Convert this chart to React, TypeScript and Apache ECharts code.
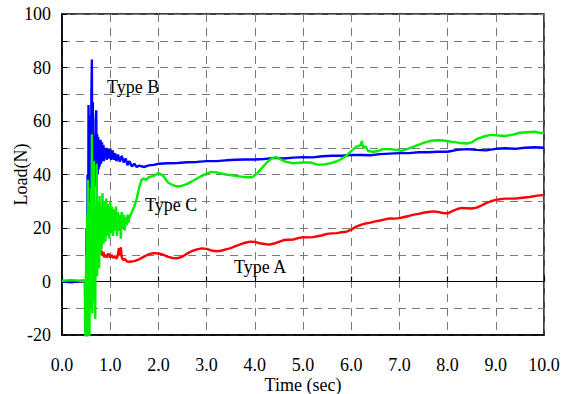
import React, { useEffect, useRef } from "react";
import * as echarts from "echarts";

const xTicks = [0, 1, 2, 3, 4, 5, 6, 7, 8, 9, 10];
const yLabelValues = [-20, 0, 20, 40, 60, 80, 100];

const typeA: [number, number][] = [
  [0, 0], [0.4, 0], [0.5, 0], [0.58, 14], [0.62, 6], [0.66, 13], [0.7, 9], [0.75, 12],
  [0.77, 11], [0.79, 12.5], [0.8, 10], [0.82, 11.5], [0.84, 9.5], [0.86, 11], [0.88, 9], [0.9, 10],
  [0.93, 9], [0.96, 10.5], [1.0, 9], [1.03, 10], [1.06, 8.8], [1.1, 9.5], [1.13, 8.5], [1.16, 10],
  [1.18, 12.5], [1.2, 10], [1.22, 12.8], [1.24, 9], [1.27, 8], [1.3, 8.5], [1.35, 7.5], [1.4, 7.4],
  [1.5, 7.6], [1.6, 8.3], [1.7, 9.3], [1.8, 10.2], [1.9, 10.6], [2.0, 10.5], [2.1, 10], [2.2, 9.2],
  [2.3, 8.8], [2.4, 8.7], [2.5, 9.3], [2.6, 10.5], [2.7, 11.4], [2.8, 12], [2.9, 12.4], [3.0, 12.2],
  [3.1, 11.6], [3.2, 11.3], [3.3, 11.5], [3.4, 12], [3.5, 12.5], [3.6, 13.2], [3.7, 13.9], [3.8, 14.5],
  [3.9, 14.9], [4.0, 14.8], [4.1, 14.3], [4.2, 14], [4.3, 13.8], [4.4, 14.2], [4.5, 14.8], [4.6, 15.5],
  [4.7, 15.6], [4.8, 15.7], [4.9, 16.2], [5.0, 16.6], [5.1, 16.5], [5.2, 16.6], [5.3, 16.9], [5.4, 17.3],
  [5.5, 17.8], [5.6, 18], [5.7, 18.1], [5.8, 18.4], [5.9, 18.6], [6.0, 19.4], [6.1, 20.5], [6.2, 21.2],
  [6.3, 21.7], [6.4, 22], [6.5, 22.5], [6.6, 22.8], [6.7, 23.2], [6.8, 23.6], [6.9, 23.5], [7.0, 23.7],
  [7.1, 24.1], [7.2, 24.5], [7.3, 25], [7.4, 25.3], [7.5, 25.7], [7.6, 26], [7.7, 26.2], [7.8, 26],
  [7.9, 25.6], [8.0, 25.5], [8.1, 26.3], [8.2, 27.1], [8.3, 27.5], [8.4, 27.4], [8.5, 27.3], [8.6, 27.6],
  [8.7, 28.4], [8.8, 29.3], [8.9, 30], [9.0, 30.5], [9.1, 30.8], [9.2, 31], [9.3, 31], [9.4, 31],
  [9.5, 31.2], [9.6, 31.4], [9.7, 31.6], [9.8, 31.9], [9.9, 32.2], [10, 32.3],
];

const typeB: [number, number][] = [
  [0, 0], [0.2, -0.3], [0.4, 0.2], [0.48, 0], [0.5, -25], [0.51, 20], [0.52, -25], [0.53, 40],
  [0.54, -20], [0.55, 66], [0.56, -5], [0.57, 58], [0.58, 5], [0.59, 62], [0.6, 15], [0.61, 70],
  [0.62, 83], [0.63, 25], [0.64, 67], [0.65, 30], [0.66, 55], [0.67, 35], [0.68, 52], [0.69, 38],
  [0.7, 60], [0.71, 64], [0.72, 36], [0.73, 55], [0.74, 40], [0.75, 54], [0.76, 42], [0.77, 53],
  [0.78, 43], [0.8, 53], [0.81, 44], [0.83, 52], [0.84, 45], [0.86, 51], [0.87, 45], [0.89, 50],
  [0.9, 46], [0.92, 50], [0.93, 45.5], [0.95, 49.5], [0.97, 46], [1.0, 49.5], [1.02, 45.5], [1.05, 49],
  [1.08, 45.5], [1.1, 48], [1.13, 45], [1.16, 47.5], [1.2, 44.8], [1.24, 47], [1.28, 44.5], [1.32, 46],
  [1.36, 43.5], [1.4, 45], [1.45, 43], [1.5, 44], [1.55, 42.8], [1.6, 43.3], [1.7, 42.8], [1.8, 43.4],
  [1.9, 43.6], [2.0, 44], [2.2, 44.2], [2.4, 44.3], [2.6, 44.6], [2.8, 44.7], [3.0, 45], [3.2, 45],
  [3.4, 45.3], [3.6, 45.5], [3.8, 45.6], [4.0, 45.6], [4.2, 45.8], [4.4, 46.2], [4.6, 46], [4.8, 46.3],
  [5.0, 46.5], [5.2, 46.4], [5.4, 46.8], [5.6, 47], [5.8, 47], [6.0, 47.3], [6.2, 47.3], [6.4, 47.2],
  [6.6, 47.6], [6.8, 47.8], [7.0, 48], [7.2, 48], [7.4, 48.3], [7.6, 48.3], [7.8, 48.5], [8.0, 48.5],
  [8.2, 49.2], [8.4, 49.5], [8.6, 49.2], [8.8, 49], [9.0, 49.6], [9.2, 49.8], [9.4, 49.6], [9.6, 50],
  [9.8, 50.2], [10, 50],
];

const typeC: [number, number][] = [
  [0, 0.3], [0.2, 0.5], [0.4, 0.3], [0.47, 0.5], [0.49, -25], [0.5, 10], [0.51, -25], [0.52, 25],
  [0.53, -20], [0.54, 38], [0.55, -15], [0.56, 30], [0.57, -22], [0.58, 20], [0.59, -10], [0.6, 35],
  [0.61, -5], [0.62, 55], [0.63, -12], [0.64, 30], [0.65, -8], [0.66, 45], [0.67, 0], [0.68, 28],
  [0.69, -14], [0.7, 25], [0.71, 5], [0.72, 44], [0.73, 2], [0.74, 30], [0.75, 8], [0.76, 28],
  [0.77, 5], [0.78, 32], [0.79, 10], [0.8, 28], [0.82, 12], [0.84, 33], [0.86, 14], [0.88, 30],
  [0.9, 15], [0.92, 31], [0.94, 17], [0.96, 29], [0.98, 16], [1.0, 30], [1.02, 18], [1.04, 28],
  [1.06, 17], [1.08, 27], [1.1, 19], [1.12, 28], [1.14, 17], [1.16, 26], [1.18, 19], [1.2, 25],
  [1.22, 16], [1.24, 26], [1.26, 20], [1.28, 25], [1.3, 19], [1.32, 24], [1.34, 21], [1.36, 25],
  [1.38, 22], [1.4, 24], [1.45, 26], [1.5, 28], [1.55, 31], [1.6, 35], [1.65, 38], [1.7, 38.5],
  [1.75, 38], [1.8, 39], [1.9, 39.5], [2.0, 40.5], [2.1, 39.5], [2.2, 37], [2.3, 36], [2.4, 35.5],
  [2.5, 35.8], [2.6, 36.5], [2.7, 37.5], [2.8, 38.5], [2.9, 39.5], [3.0, 40.3], [3.1, 41], [3.2, 40.8],
  [3.4, 40], [3.6, 39.5], [3.8, 39], [3.95, 39], [4.05, 40.5], [4.15, 42.5], [4.25, 44.5], [4.35, 46],
  [4.45, 46.5], [4.55, 45.5], [4.65, 44.7], [4.8, 44.2], [5.0, 44.5], [5.15, 44.5], [5.3, 43.7],
  [5.45, 43.8], [5.6, 44.3], [5.75, 45.3], [5.9, 47], [6.0, 48.7], [6.1, 50.3], [6.2, 51], [6.22, 52.5],
  [6.25, 50], [6.3, 50.5], [6.35, 48.8], [6.45, 48.5], [6.55, 48.7], [6.65, 49.5], [6.8, 49.5],
  [6.95, 49.2], [7.05, 48.8], [7.2, 49.8], [7.35, 50.8], [7.5, 51.8], [7.65, 52.6], [7.8, 52.8],
  [7.95, 52.6], [8.1, 52.2], [8.25, 51.8], [8.4, 51.6], [8.5, 52], [8.6, 53.2], [8.75, 54.2],
  [8.9, 54.8], [9.05, 54.6], [9.2, 54.4], [9.35, 54.9], [9.5, 55.6], [9.65, 55.8], [9.8, 56],
  [9.9, 55.6], [10, 55.5],
];

const seriesNames = ["Type A", "Type B", "Type C"];
const seriesColors = ["#ff0000", "#0000ff", "#00ee00"];

const FONT = "Liberation Serif";

export default function App() {
  const ref = useRef<HTMLDivElement>(null);
  useEffect(() => {
    document.body.style.margin = "0";
    const chart = echarts.init(ref.current!, null, { renderer: "svg" });
    const dashed = { show: true, lineStyle: { color: "#7a7a7a", type: [8, 6] as any, width: 1 } };
    const txt = (text: string, left: number, top: number) => ({
      type: "text", left, top, z: 100,
      style: { text, fontFamily: FONT, fontSize: 18, fill: "#000" },
    });
    chart.setOption({
      animation: false,
      backgroundColor: "#fff",
      textStyle: { fontFamily: FONT },
      grid: {
        left: 62, top: 14, width: 482, height: 321,
        outerBoundsMode: "none", containLabel: false,
        show: true, borderColor: "#000", borderWidth: 1.5, backgroundColor: "transparent",
      },
      xAxis: [
        {
          type: "value", min: xTicks[0], max: xTicks[xTicks.length - 1], interval: 1,
          position: "bottom",
          axisLine: { onZero: false, show: true, lineStyle: { color: "#000", width: 1.5 } },
          axisTick: { show: false },
          axisLabel: {
            margin: 21, color: "#000", fontSize: 18, fontFamily: FONT,
            formatter: (v: number) => v.toFixed(1),
          },
          splitLine: dashed,
          name: "Time (sec)", nameLocation: "middle", nameGap: 41, nameMoveOverlap: false,
          nameTextStyle: { color: "#000", fontSize: 18, fontFamily: FONT, lineHeight: 18 },
        },
        {
          type: "value", min: xTicks[0], max: xTicks[xTicks.length - 1], interval: 1,
          position: "bottom",
          axisLine: { onZero: true, show: true, lineStyle: { color: "#000", width: 1.2 } },
          axisTick: { show: true, inside: true, length: 5, lineStyle: { color: "#000", width: 1.2 } },
          axisLabel: { show: false },
          splitLine: { show: false },
        },
      ],
      yAxis: {
        type: "value", min: -20, max: 100, interval: 10,
        axisLine: { show: true, lineStyle: { color: "#000", width: 1.5 } },
        axisTick: { show: true, inside: true, length: 5, lineStyle: { color: "#000" } },
        axisLabel: {
          margin: 11, color: "#000", fontSize: 18, fontFamily: FONT,
          formatter: (v: number) => (yLabelValues.includes(v) ? String(v) : ""),
        },
        splitLine: dashed,
        name: "Load(N)", nameLocation: "middle", nameGap: 32, nameRotate: 90, nameMoveOverlap: false,
        nameTextStyle: { color: "#000", fontSize: 18, fontFamily: FONT },
      },
      series: [typeA, typeB, typeC].map((d, i) => ({
        type: "line", name: seriesNames[i], data: d, xAxisIndex: 0,
        showSymbol: false, symbol: "none", clip: true,
        lineStyle: { color: seriesColors[i], width: 2.4 },
        z: 3 + i,
      })),
      graphic: [
        txt("Type B", 107, 78),
        txt("Type C", 145, 196),
        txt("Type A", 234, 258),
      ],
    });
    return () => chart.dispose();
  }, []);
  return <div ref={ref} style={{ width: 572, height: 394 }} />;
}
